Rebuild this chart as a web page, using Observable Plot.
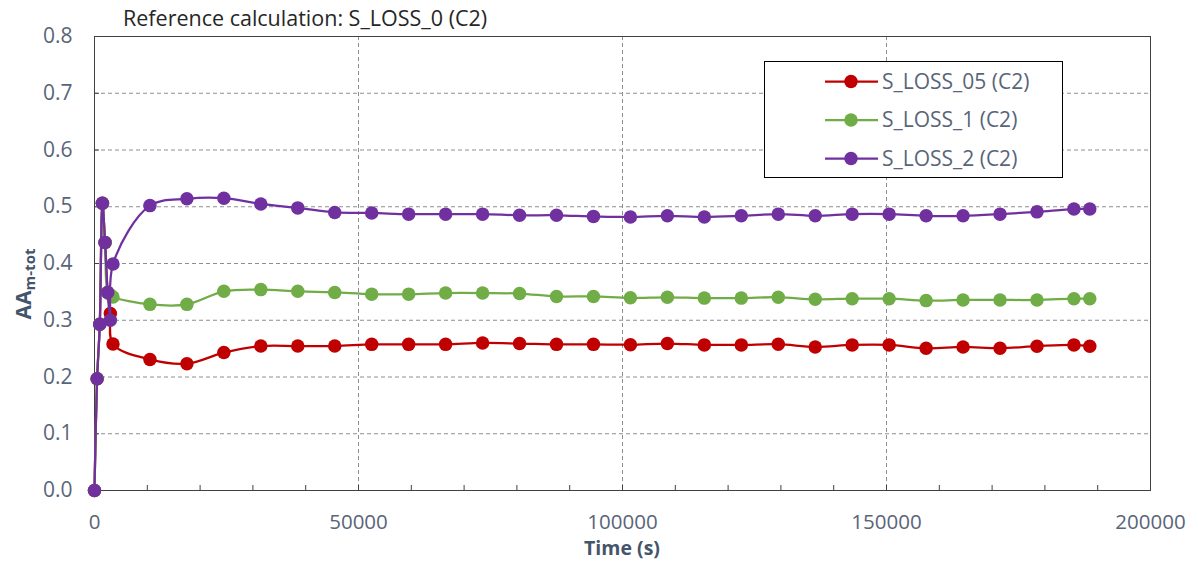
<!DOCTYPE html>
<html>
<head>
<meta charset="utf-8">
<script src="https://cdn.jsdelivr.net/npm/d3@7"></script>
<script src="https://cdn.jsdelivr.net/npm/@observablehq/plot@0.6"></script>
<style>
  html, body { margin: 0; padding: 0; background: #ffffff; }
  #chart svg { display: block; }
</style>
</head>
<body>
<div id="chart"></div>
<script>
// ---- data ----
const titleText = "Reference calculation: S_LOSS_0 (C2)";
const xLabel = "Time (s)";
const yLabelMain = "AA";
const yLabelSub = "m-tot";

const times = [0, 500, 1000, 1500, 2000, 2500, 3000, 3500,
  10500, 17500, 24500, 31500, 38500, 45500, 52500, 59500, 66500, 73500, 80500,
  87500, 94500, 101500, 108500, 115500, 122500, 129500, 136500, 143500, 150500,
  157500, 164500, 171500, 178500, 185500, 188500];

const seriesNames = ["S_LOSS_05 (C2)", "S_LOSS_1 (C2)", "S_LOSS_2 (C2)"];
const seriesColors = ["#C00000", "#70AD47", "#7030A0"];

const sLoss05 = [0, 0.197, 0.293, 0.506, 0.437, 0.349, 0.312, 0.258,
  0.231, 0.2235, 0.243, 0.2545, 0.2545, 0.2545, 0.2575, 0.2575, 0.2575, 0.260, 0.259,
  0.2575, 0.2575, 0.257, 0.259, 0.2566, 0.2566, 0.2578, 0.253, 0.2566, 0.2566,
  0.2507, 0.253, 0.2507, 0.2543, 0.2566, 0.2543];

const sLoss1 = [0, 0.197, 0.293, 0.506, 0.437, 0.349, 0.345, 0.341,
  0.328, 0.328, 0.351, 0.354, 0.351, 0.349, 0.346, 0.346, 0.348, 0.348, 0.347,
  0.342, 0.342, 0.3395, 0.3405, 0.339, 0.339, 0.3405, 0.337, 0.338, 0.338,
  0.3346, 0.3358, 0.3358, 0.3358, 0.338, 0.338];

const sLoss2 = [0, 0.197, 0.293, 0.506, 0.437, 0.349, 0.300, 0.399,
  0.502, 0.514, 0.515, 0.505, 0.498, 0.490, 0.489, 0.487, 0.487, 0.487, 0.485,
  0.485, 0.483, 0.482, 0.484, 0.482, 0.484, 0.487, 0.484, 0.487, 0.487,
  0.484, 0.484, 0.487, 0.491, 0.496, 0.496];

const xMajorTicks = [0, 50000, 100000, 150000, 200000];
const xMinorTicks = d3.range(0, 200001, 10000);
const xGridTicks = [50000, 100000, 150000];
const yTicks = [0, 0.1, 0.2, 0.3, 0.4, 0.5, 0.6, 0.7, 0.8];
const yGridTicks = [0.1, 0.2, 0.3, 0.4, 0.5, 0.6, 0.7];

// ---- build table ----
const seriesValues = [sLoss05, sLoss1, sLoss2];
const rows = seriesNames.flatMap((name, i) =>
  times.map((t, j) => ({ t, v: seriesValues[i][j], name })));

const W = 1198, H = 561;
const FONT = "'Open Sans', sans-serif";
const TEXT_COLOR = "#596579";
const AXIS_COLOR = "#404040";
const GRID_COLOR = "#8e8e8e";

const seriesMarks = seriesNames.flatMap((name, i) => {
  const d = rows.filter(r => r.name === name);
  return [
    Plot.line(d, { x: "t", y: "v", stroke: seriesColors[i], strokeWidth: 2.25, curve: "catmull-rom" }),
    Plot.dot(d, { x: "t", y: "v", r: 6.75, fill: seriesColors[i], stroke: "none" })
  ];
});

const plot = Plot.plot({
  width: W,
  height: H,
  marginLeft: 94,
  marginRight: 48,
  marginTop: 36,
  marginBottom: 71,
  style: { fontFamily: FONT, background: "#ffffff", overflow: "visible" },
  x: { domain: [0, 200000] },
  y: { domain: [0, 0.8] },
  marks: [
    Plot.gridY(yGridTicks, { stroke: GRID_COLOR, strokeOpacity: 1, strokeDasharray: "4,3" }),
    Plot.gridX(xGridTicks, { stroke: GRID_COLOR, strokeOpacity: 1, strokeDasharray: "4,3" }),
    Plot.frame({ stroke: AXIS_COLOR }),
    Plot.axisY({ ticks: yTicks, tickSize: -5, tickPadding: 27, tickFormat: d3.format(".1f"),
      stroke: AXIS_COLOR, fill: TEXT_COLOR, fontSize: 21, label: null }),
    Plot.axisX({ ticks: xMinorTicks, tickSize: -5, stroke: AXIS_COLOR, fill: "none", label: null }),
    Plot.axisX({ ticks: xMajorTicks, tickSize: 0, tickPadding: 24, tickFormat: d => String(d),
      fill: TEXT_COLOR, fontSize: 20.5, label: null }),
    ...seriesMarks
  ]
});

document.getElementById("chart").appendChild(plot);

// ---- annotations: title, axis titles, legend ----
const svg = d3.select(plot);

svg.append("text")
  .attr("x", 123).attr("y", 26)
  .attr("text-anchor", "start")
  .attr("font-family", FONT).attr("font-size", 21.5)
  .attr("fill", "#262626")
  .text(titleText);

svg.append("text")
  .attr("x", 622).attr("y", 555)
  .attr("text-anchor", "middle")
  .attr("font-family", FONT).attr("font-size", 19.5).attr("font-weight", "bold")
  .attr("fill", "#44546A")
  .text(xLabel);

const yl = svg.append("text")
  .attr("transform", "translate(31,284) rotate(-90)")
  .attr("text-anchor", "middle")
  .attr("font-family", FONT).attr("font-weight", "bold")
  .attr("fill", "#44546A");
yl.append("tspan").attr("font-size", 21).text(yLabelMain);
yl.append("tspan").attr("font-size", 15).attr("dy", 4).text(yLabelSub);

// legend
const lg = svg.append("g");
lg.append("rect")
  .attr("x", 764.5).attr("y", 61.5).attr("width", 298).attr("height", 116)
  .attr("fill", "#ffffff").attr("stroke", "#000000").attr("stroke-width", 1);
seriesNames.forEach((name, i) => {
  const cy = 81.5 + i * 38.5;
  lg.append("line")
    .attr("x1", 825).attr("x2", 878).attr("y1", cy).attr("y2", cy)
    .attr("stroke", seriesColors[i]).attr("stroke-width", 2.25);
  lg.append("circle")
    .attr("cx", 851).attr("cy", cy).attr("r", 6.75).attr("fill", seriesColors[i]);
  lg.append("text")
    .attr("x", 882).attr("y", cy).attr("dy", "0.35em")
    .attr("text-anchor", "start")
    .attr("font-family", FONT).attr("font-size", 21)
    .attr("fill", TEXT_COLOR)
    .text(name);
});
</script>
</body>
</html>
